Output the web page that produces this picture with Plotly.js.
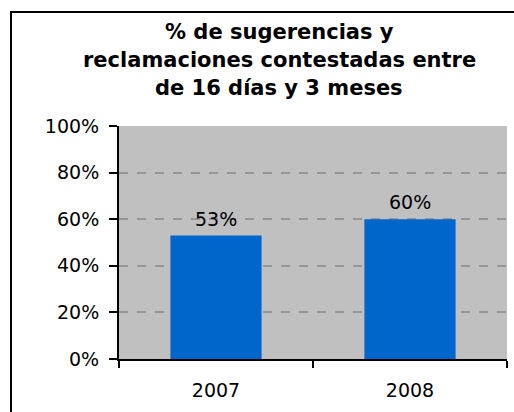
<!DOCTYPE html>
<html><head><meta charset="utf-8">
<script src="https://cdn.plot.ly/plotly-3.0.1.min.js"></script>
<style>html,body{margin:0;padding:0;background:#fff}</style>
</head><body><div id="c" style="width:514px;height:412px"></div>
<script>
var categories = ['2007', '2008'];
var values = [0.53, 0.60];
var valueLabels = ['53%', '60%'];
var titleLines = ['% de sugerencias y', 'reclamaciones contestadas entre', 'de 16 días y 3 meses'];
var yTicks = [0, 0.2, 0.4, 0.6, 0.8, 1.0];
var yTickLabels = ['0%', '20%', '40%', '60%', '80%', '100%'];

var F = 'DejaVu Sans, Verdana, sans-serif';
var L = 119, R = 7, T = 126, B = 53, W = 514, H = 412;
var pw = W - L - R, ph = H - T - B;
function px2x(p){ return (p - L) / pw; }
function py2y(p){ return 1 - (p - T) / ph; }

var titleY = [32, 60, 88];
var ann = titleLines.map(function(t, i){
  return {text: '<b>' + t + '</b>', xref: 'paper', yref: 'paper', x: px2x(279), y: py2y(titleY[i]),
    xanchor: 'center', yanchor: 'middle', showarrow: false, font: {family: F, size: 21, color: '#000'}};
});
categories.forEach(function(c, i){
  ann.push({text: valueLabels[i], x: i, y: values[i], xref: 'x', yref: 'y', xanchor: 'center', yanchor: 'bottom',
    showarrow: false, yshift: 4, font: {family: F, size: 19, color: '#000'}});
});

Plotly.newPlot('c', [{
  type: 'bar', x: categories, y: values, width: 0.47,
  marker: {color: '#0066CC', line: {width: 0}}, hoverinfo: 'none'
}], {
  width: W, height: H, margin: {l: L, r: R, t: T, b: B, pad: 0},
  paper_bgcolor: '#fff', plot_bgcolor: '#C0C0C0', showlegend: false,
  font: {family: F, size: 19, color: '#000'},
  xaxis: {type: 'category', range: [-0.5, 1.5], tickson: 'boundaries', ticks: 'outside', ticklen: 7, tickwidth: 2, tickcolor: '#000',
    showline: true, linecolor: '#000', linewidth: 2, showgrid: false, zeroline: false, tickangle: 0,
    tickfont: {family: F, size: 19, color: '#000'}, ticklabelstandoff: 13, fixedrange: true},
  yaxis: {range: [0, 1], tickvals: yTicks, ticktext: yTickLabels, ticks: 'outside', ticklen: 8, tickwidth: 2, tickcolor: '#000',
    showline: true, linecolor: '#000', linewidth: 2, showgrid: true, gridcolor: '#969696', gridwidth: 2, griddash: 'dash',
    zeroline: false, tickfont: {family: F, size: 19, color: '#000'}, ticklabelstandoff: 6, fixedrange: true},
  annotations: ann,
  shapes: [{type: 'rect', xref: 'paper', yref: 'paper', x0: px2x(11), y0: py2y(430), x1: px2x(540), y1: py2y(12),
    line: {color: '#000', width: 2}, fillcolor: 'rgba(0,0,0,0)', layer: 'above'}]
}, {displayModeBar: false, staticPlot: true});
</script></body></html>
